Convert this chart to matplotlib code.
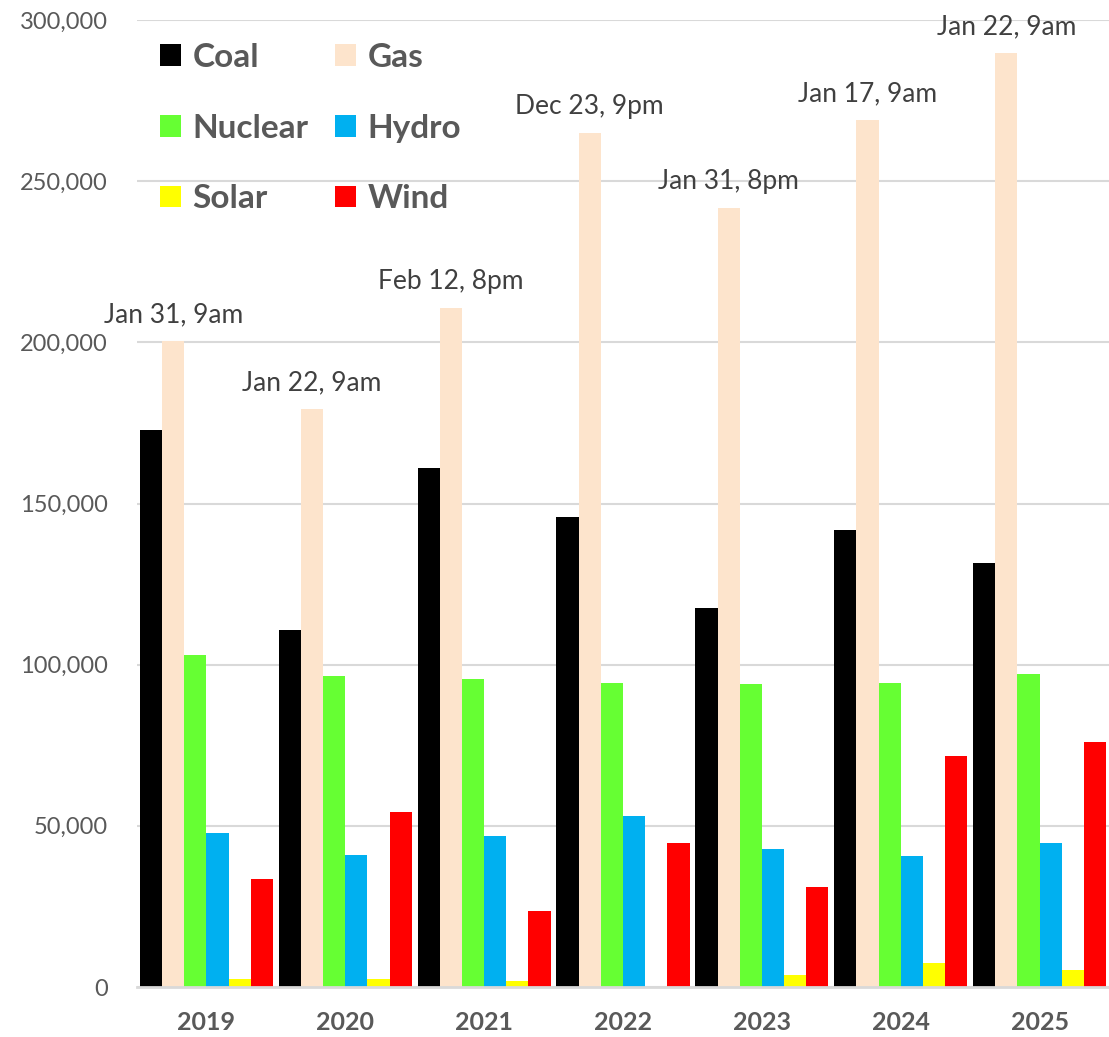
import matplotlib
matplotlib.use("Agg")
import matplotlib.pyplot as plt
import numpy as np
from matplotlib.patches import Patch
from matplotlib.ticker import FuncFormatter

years = ["2019", "2020", "2021", "2022", "2023", "2024", "2025"]
peak_labels = ["Jan 31, 9am", "Jan 22, 9am", "Feb 12, 8pm", "Dec 23, 9pm",
               "Jan 31, 8pm", "Jan 17, 9am", "Jan 22, 9am"]
coal = [172700, 110800, 161000, 145800, 117600, 141800, 131600]
gas = [200300, 179300, 210700, 265000, 241700, 269000, 289800]
nuclear = [103000, 96500, 95600, 94300, 94000, 94300, 97100]
hydro = [47800, 40900, 46800, 53100, 42900, 40500, 44700]
solar = [2500, 2500, 1800, 0, 3700, 7500, 5400]
wind = [33400, 54300, 23600, 44600, 31100, 71700, 76000]

series_names = ["Coal", "Gas", "Nuclear", "Hydro", "Solar", "Wind"]
series_vals = [coal, gas, nuclear, hydro, solar, wind]
colors = ["#000000", "#FDE4CC", "#66FF33", "#00B0F0", "#FFFF00", "#FF0000"]

plt.rcParams['font.family'] = ['Lato', 'DejaVu Sans']

fig = plt.figure(figsize=(11.09, 10.37), dpi=100)
ax = fig.add_axes([137/1109, 1-987/1037, 1-137/1109, (987-20)/1037])

x = np.arange(len(years))
w = 0.1597
for i, (name, vals, c) in enumerate(zip(series_names, series_vals, colors)):
    offs = (i - 2.5) * w
    ax.bar(x + offs, vals, width=w, color=c, label=name, linewidth=0, zorder=3)

gas_off = (1 - 2.5) * w
for xi, v, lab in zip(x, gas, peak_labels):
    ax.annotate(lab, xy=(xi + gas_off, v), xytext=(0, 10), textcoords="offset points",
                ha="center", va="bottom", fontsize=19, color="#404040", zorder=5)

ax.set_xlim(-0.5, len(years) - 0.5)
ax.set_ylim(0, 300000)
ax.set_yticks(np.arange(0, 300001, 50000))
ax.yaxis.set_major_formatter(FuncFormatter(lambda v, p: f"{int(v):,}"))
ax.set_xticks(x)
ax.set_xticklabels(years, fontsize=18, fontweight="bold", color="#595959")
ax.tick_params(axis="y", labelsize=17, labelcolor="#595959", length=0, pad=21)
ax.tick_params(axis="x", length=0, pad=17)
ax.grid(axis="y", color="#D9D9D9", linewidth=1.5, zorder=0)
ax.set_axisbelow(True)
for s in ["top", "right", "left"]:
    ax.spines[s].set_visible(False)
ax.spines["bottom"].set_color("#D9D9D9")
ax.spines["bottom"].set_linewidth(2)
ax.spines["bottom"].set_zorder(4)

order = [0, 2, 4, 1, 3, 5]
handles = [Patch(facecolor=colors[i], edgecolor="none") for i in order]
labels = [series_names[i] for i in order]
leg = ax.legend(handles, labels, ncol=2, loc="upper left",
                bbox_to_anchor=(0.01, 0.99), frameon=False,
                prop={"size": 24, "weight": "bold"},
                handlelength=0.62, handleheight=0.62, handletextpad=0.35,
                labelspacing=1.25, columnspacing=0.8, borderaxespad=0)
for t in leg.get_texts():
    t.set_color("#595959")

fig.savefig("out.png", dpi=100)
